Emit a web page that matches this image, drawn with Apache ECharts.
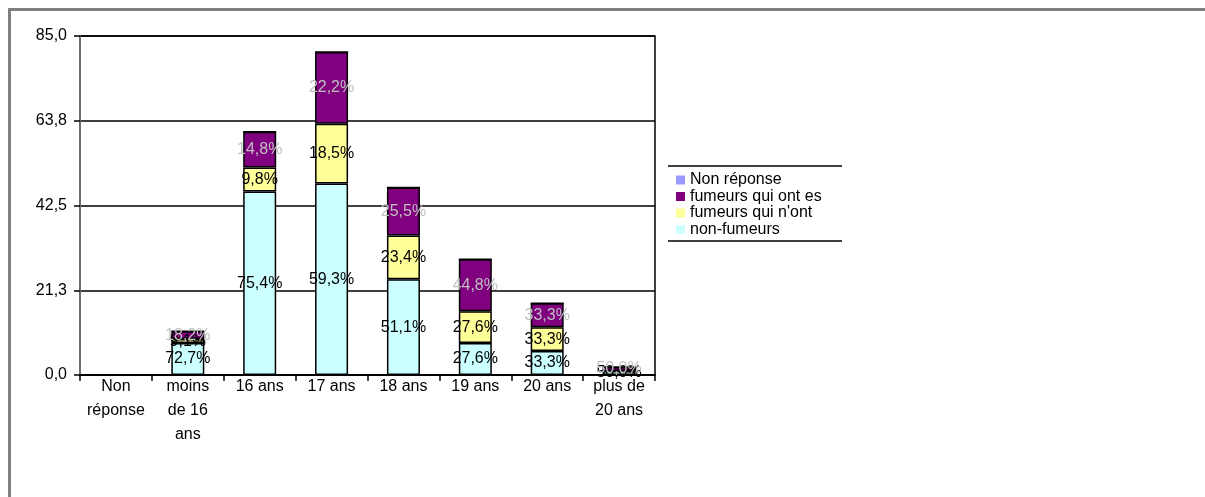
<!DOCTYPE html>
<html>
<head>
<meta charset="utf-8">
<script src="https://cdn.jsdelivr.net/npm/echarts@6/dist/echarts.min.js"></script>
<style>
html,body{margin:0;padding:0;background:#fff;}
#chart{width:1205px;height:497px;}
</style>
</head>
<body>
<div id="chart"></div>
<script>
// Age groups on the x axis
const categories = ['Non réponse', 'moins de 16 ans', '16 ans', '17 ans', '18 ans', '19 ans', '20 ans', 'plus de 20 ans'];
// Wrapped tick labels for those age groups
const xTickLabels = ['Non\nréponse', 'moins\nde 16\nans', '16 ans', '17 ans', '18 ans', '19 ans', '20 ans', 'plus de\n20 ans'];
// Counts per age group, one array per smoking status (stacked bottom to top)
const nonFumeurs      = [0, 8, 46, 48, 24, 8, 6, 1];
const fumeursQuiNont  = [0, 1, 6, 15, 11, 8, 6, 0];
const fumeursQuiOntEs = [0, 2, 9, 18, 12, 13, 6, 1];
const nonReponse      = [0, 0, 0, 0, 0, 0, 0, 0];
// Value axis tick labels
const yTicks = [0, 21.25, 42.5, 63.75, 85];

const FONT = 'Liberation Sans, Arial, sans-serif';
const totals = categories.map((_, i) => nonFumeurs[i] + fumeursQuiNont[i] + fumeursQuiOntEs[i] + nonReponse[i]);
const fmt = (v, d) => v.toFixed(d).replace('.', ',');

function pctLabel(color) {
  return {
    show: true,
    position: 'inside',
    color: color,
    fontFamily: FONT,
    fontSize: 16,
    formatter: p => p.value > 0 ? fmt(p.value / totals[p.dataIndex] * 100, 1) + '%' : ''
  };
}

function barSeries(name, data, color, labelColor) {
  return {
    name: name,
    type: 'bar',
    stack: 'total',
    data: data,
    barWidth: 33,
    itemStyle: { color: color, borderColor: '#000', borderWidth: 1.5 },
    label: pctLabel(labelColor),
    emphasis: { disabled: true }
  };
}

const chart = echarts.init(document.getElementById('chart'), null, { renderer: 'canvas' });
chart.setOption({
  animation: false,
  backgroundColor: '#fff',
  grid: { left: 80, right: 550, top: 36, bottom: 122, show: true, borderColor: '#000', borderWidth: 1.5 },
  legend: {
    orient: 'vertical',
    left: 671,
    top: 167,
    itemWidth: 9,
    itemHeight: 9,
    itemGap: 0.5,
    icon: 'rect',
    itemStyle: { borderWidth: 0 },
    data: ['Non réponse', 'fumeurs qui ont es', "fumeurs qui n'ont", 'non-fumeurs'],
    textStyle: { fontFamily: FONT, fontSize: 16, color: '#000', padding: [0, 0, 0, 0] }
  },
  xAxis: {
    type: 'category',
    data: categories,
    axisLine: { lineStyle: { color: '#000', width: 1.5 } },
    axisTick: { show: true, length: 6, lineStyle: { color: '#000', width: 1.5 } },
    axisLabel: {
      interval: 0,
      lineHeight: 24,
      margin: 0,
      color: '#000',
      fontFamily: FONT,
      fontSize: 16,
      formatter: (v, i) => xTickLabels[i]
    }
  },
  yAxis: {
    type: 'value',
    min: yTicks[0],
    max: yTicks[yTicks.length - 1],
    interval: yTicks[1] - yTicks[0],
    axisLine: { show: true, lineStyle: { color: '#808080', width: 1.5 } },
    axisTick: { show: true, length: 6, lineStyle: { color: '#000', width: 1.5 } },
    splitLine: { show: true, lineStyle: { color: '#000', width: 1.5 } },
    axisLabel: {
      margin: 13,
      color: '#000',
      fontFamily: FONT,
      fontSize: 16,
      formatter: v => fmt(v, 1)
    }
  },
  graphic: [
    { type: 'rect', shape: { x: 9.5, y: 9.5, width: 1300, height: 700 }, style: { fill: 'none', stroke: '#808080', lineWidth: 3 } },
    { type: 'line', shape: { x1: 668, y1: 166, x2: 842, y2: 166 }, style: { stroke: '#000', lineWidth: 1.5 } },
    { type: 'line', shape: { x1: 668, y1: 241, x2: 842, y2: 241 }, style: { stroke: '#000', lineWidth: 1.5 } }
  ],
  series: [
    barSeries('non-fumeurs', nonFumeurs, '#CCFFFF', '#000'),
    barSeries("fumeurs qui n'ont", fumeursQuiNont, '#FFFF99', '#000'),
    barSeries('fumeurs qui ont es', fumeursQuiOntEs, '#800080', '#c0c0c0'),
    barSeries('Non réponse', nonReponse, '#9999FF', '#000')
  ]
});
</script>
</body>
</html>
